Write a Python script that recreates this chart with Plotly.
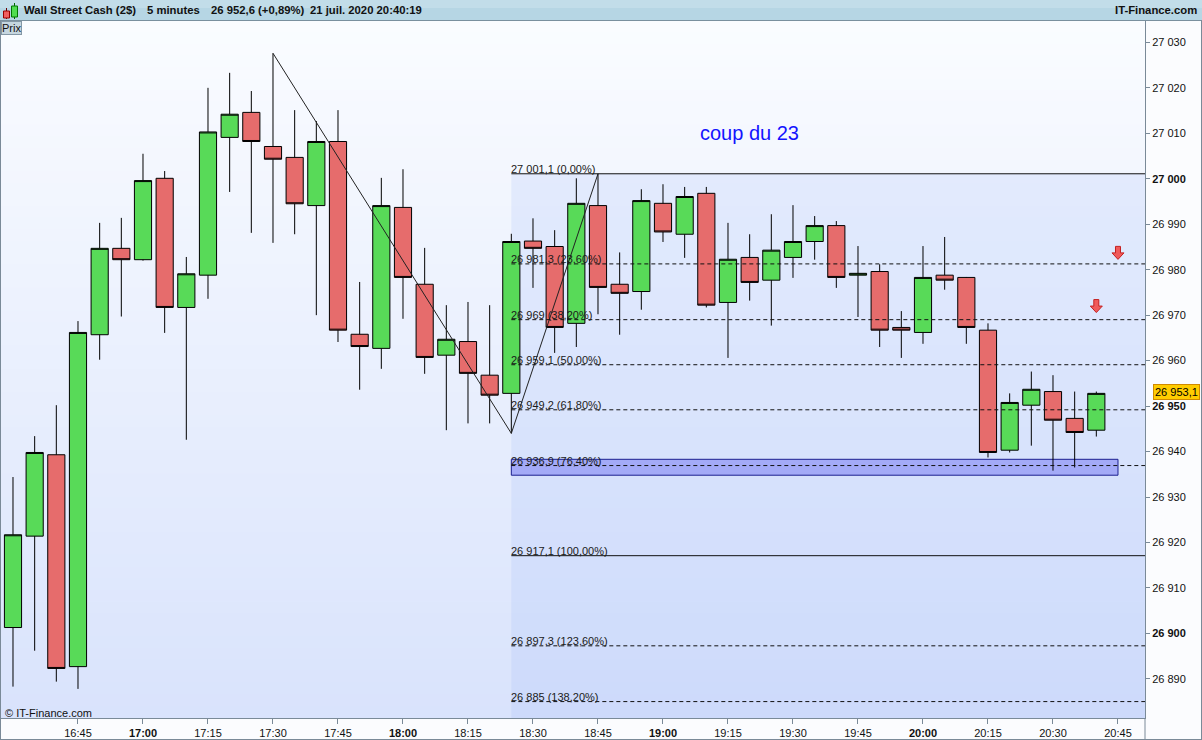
import plotly.graph_objects as go
import pandas as pd

# ---------------- data ----------------
times = pd.date_range("2020-07-21 16:30", "2020-07-21 20:40", freq="5min")
opens = [26901.3, 26921.4, 26939.3, 26892.7, 26965.7, 26984.7, 26982.2, 27000.1, 26971.7, 26978.8,
         27009.1, 27014.6, 27007.1, 27004.7, 26994.1, 27008.2, 26965.8, 26962.7, 26993.7, 26976.8,
         26961.2, 26964.2, 26956.8, 26952.8, 26986.3, 26985.1, 26968.2, 26994.1, 26976.8, 26975.2,
         26994.6, 26987.8, 26996.8, 26972.8, 26982.7, 26977.7, 26982.7, 26986.2, 26989.7, 26978.8,
         26979.6, 26967.3, 26966.2, 26978.8, 26978.3, 26966.7, 26940.3, 26950.2, 26953.2, 26947.3,
         26944.7]
highs = [26934.4, 26943.4, 26950.2, 26968.7, 26990.3, 26991.4, 27005.5, 27001.7, 26982.8, 27020.0,
         27023.3, 27019.3, 27027.6, 27015.1, 27012.7, 27015.1, 26977.3, 27000.2, 27002.1, 26984.8,
         26972.2, 26972.9, 26972.2, 26987.9, 26991.3, 26988.7, 27000.1, 27001.1, 26983.8, 26997.7,
         26998.8, 26998.2, 26998.2, 26990.3, 26987.8, 26992.2, 26994.2, 26991.8, 26990.7, 26985.2,
         26981.2, 26970.9, 26985.2, 26987.2, 26978.4, 26968.2, 26952.8, 26957.6, 26956.8, 26953.2,
         26953.2]
lows = [26888.3, 26896.2, 26889.4, 26887.8, 26960.2, 26969.7, 26982.0, 26966.1, 26942.6, 26973.6,
        26997.1, 26988.1, 26985.9, 26987.8, 26970.0, 26964.1, 26953.6, 26958.2, 26969.2, 26957.1,
        26944.7, 26946.2, 26946.2, 26944.0, 26976.0, 26961.7, 26963.0, 26970.2, 26965.7, 26971.2,
        26986.1, 26982.6, 26971.7, 26960.6, 26973.2, 26967.7, 26978.2, 26982.2, 26976.0, 26969.6,
        26963.0, 26960.6, 26963.7, 26975.6, 26963.7, 26938.7, 26939.8, 26941.3, 26935.8, 26936.5,
        26943.3]
closes = [26921.7, 26939.8, 26892.3, 26966.2, 26984.7, 26982.2, 26999.6, 26971.7, 26979.1, 27010.3,
          27014.2, 27008.2, 27004.3, 26994.5, 27008.2, 26966.7, 26963.1, 26994.1, 26978.3, 26960.7,
          26964.7, 26957.2, 26952.4, 26986.2, 26984.7, 26967.3, 26994.6, 26976.1, 26974.8, 26995.2,
          26988.3, 26996.1, 26972.2, 26982.3, 26977.2, 26984.3, 26986.2, 26989.7, 26978.3, 26979.2,
          26966.7, 26966.7, 26978.3, 26977.7, 26967.3, 26939.8, 26950.8, 26953.7, 26946.9, 26944.2,
          26952.8]

fib_top = 27001.1
fib_bottom = 26917.1
fib_ratios = [0.0, 0.236, 0.382, 0.5, 0.618, 0.764, 1.0, 1.236, 1.382]
fib_start = "2020-07-21 18:25"

zigzag_t = ["2020-07-21 17:30", "2020-07-21 18:25", "2020-07-21 18:45"]
zigzag_v = [27027.6, 26944.0, 27001.1]

zone_t = ["2020-07-21 18:25", "2020-07-21 20:45"]
zone_v = [26934.8, 26938.3]

arrow_t = ["2020-07-21 20:45", "2020-07-21 20:40"]
arrow_v = [26983.7, 26972.0]

note_t = "2020-07-21 19:20"
note_v = 27010.0
note_text = "coup du 23"

last_price = 26953.1
y_tick_vals = [26890, 26900, 26910, 26920, 26930, 26940, 26950, 26960, 26970, 26980,
               26990, 27000, 27010, 27020, 27030]
y_bold = [26900, 26950, 27000]
x_tick_labels = ["16:45", "17:00", "17:15", "17:30", "17:45", "18:00", "18:15", "18:30", "18:45",
                 "19:00", "19:15", "19:30", "19:45", "20:00", "20:15", "20:30", "20:45"]
x_range = ["2020-07-21 16:27:14", "2020-07-21 20:51:14"]
y_range = [26881.4, 27034.7]

header_parts = [("Wall Street Cash (2$)", 22), ("5 minutes", 145), ("26 952,6 (+0,89%)", 209),
                ("21 juil. 2020 20:40:19", 308)]

# ---------------- helpers ----------------
W, H = 1202, 740
ML, MR, MT, MB = 1, 57, 21, 22
PW, PH = W - ML - MR, H - MT - MB
FONT = "Liberation Sans, Arial, sans-serif"


def px2x(px):
    return (px - ML) / PW


def py2y(py):
    return (H - MB - py) / PH


def fr(v, dec=1):
    s = f"{v:,.{dec}f}"
    return s.replace(",", " ").replace(".", ",")


def fib_label(v, r):
    dec = 0 if abs(round(v, 1) - round(v)) < 1e-9 else 1
    return f"{fr(v, dec)} ({fr(r * 100, 2)}%)"


fig = go.Figure()

shapes = []
# background gradient bands
N = 60
top_c = (250, 252, 255)
bot_c = (217, 227, 252)
for i in range(N):
    t = i / (N - 1)
    c = tuple(round(top_c[k] + (bot_c[k] - top_c[k]) * t) for k in range(3))
    shapes.append(dict(type="rect", xref="paper", yref="paper", x0=0, x1=1,
                       y0=1 - (i + 1) / N, y1=1 - i / N + 0.001, layer="below",
                       fillcolor=f"rgb{c}", line=dict(width=0)))

# fib zone
shapes.append(dict(type="rect", xref="x", yref="y", x0=fib_start, x1=x_range[1],
                   y0=y_range[0], y1=fib_top, layer="below",
                   fillcolor="rgba(150,178,250,0.17)", line=dict(width=0)))

# fib lines
rng = fib_top - fib_bottom
fib_levels = [fib_top - r * rng for r in fib_ratios]
for r, v in zip(fib_ratios, fib_levels):
    solid = r in (0.0, 1.0)
    shapes.append(dict(type="line", xref="x", yref="y", x0=fib_start, x1=x_range[1],
                       y0=v, y1=v, layer="above",
                       line=dict(color="#111111", width=1, dash="solid" if solid else "4px,3px")))

# target zone rectangle
shapes.append(dict(type="rect", xref="x", yref="y", x0=zone_t[0], x1=zone_t[1],
                   y0=zone_v[0], y1=zone_v[1], layer="below",
                   fillcolor="#a3aaf7", line=dict(color="#1c2090", width=1)))

# arrows
for t, v in zip(arrow_t, arrow_v):
    shapes.append(dict(type="path", xref="x", yref="y", xsizemode="pixel", ysizemode="pixel",
                       xanchor=t, yanchor=v,
                       path="M-2.5,6.5 L2.5,6.5 L2.5,0 L6,0 L0,-6.5 L-6,0 L-2.5,0 Z",
                       fillcolor="#f05a5a", line=dict(color="#c42020", width=1), layer="above"))

# header bar
shapes.append(dict(type="rect", xref="paper", yref="paper", x0=px2x(0), x1=px2x(W),
                   y0=py2y(20.5), y1=py2y(0), fillcolor="#b6d6e4", line=dict(width=0)))
shapes.append(dict(type="rect", xref="paper", yref="paper", x0=px2x(0), x1=px2x(W),
                   y0=py2y(8), y1=py2y(0), fillcolor="#c2dde9", line=dict(width=0)))
shapes.append(dict(type="line", xref="paper", yref="paper", x0=px2x(0), x1=px2x(W),
                   y0=py2y(20.5), y1=py2y(20.5), line=dict(color="#7a909e", width=1)))
# header icon
shapes.append(dict(type="line", xref="paper", yref="paper", x0=px2x(6.5), x1=px2x(6.5),
                   y0=py2y(19), y1=py2y(8), line=dict(color="#600", width=1)))
shapes.append(dict(type="rect", xref="paper", yref="paper", x0=px2x(3.5), x1=px2x(9.5),
                   y0=py2y(18), y1=py2y(11), fillcolor="#f06060", line=dict(color="#900", width=1)))
shapes.append(dict(type="line", xref="paper", yref="paper", x0=px2x(14.5), x1=px2x(14.5),
                   y0=py2y(19), y1=py2y(3), line=dict(color="#060", width=1)))
shapes.append(dict(type="rect", xref="paper", yref="paper", x0=px2x(11.5), x1=px2x(17.5),
                   y0=py2y(17), y1=py2y(6), fillcolor="#50dd50", line=dict(color="#070", width=1)))
# frame lines
shapes.append(dict(type="line", xref="paper", yref="paper", x0=px2x(0.5), x1=px2x(0.5),
                   y0=py2y(H), y1=py2y(20.5), line=dict(color="#7a8a98", width=1)))
shapes.append(dict(type="line", xref="paper", yref="paper", x0=1, x1=1,
                   y0=py2y(H), y1=0, line=dict(color="#7a8a98", width=1)))
shapes.append(dict(type="line", xref="paper", yref="paper", x0=px2x(0), x1=px2x(W),
                   y0=py2y(H - 0.5), y1=py2y(H - 0.5), line=dict(color="#7a8a98", width=1)))
shapes.append(dict(type="line", xref="paper", yref="paper", x0=px2x(W - 0.5), x1=px2x(W - 0.5),
                   y0=py2y(H), y1=py2y(20.5), line=dict(color="#7a8a98", width=1)))

# ---------------- traces ----------------
fig.add_trace(go.Candlestick(
    x=times, open=opens, high=highs, low=lows, close=closes,
    increasing=dict(fillcolor="#58da58", line=dict(color="#000000", width=1)),
    decreasing=dict(fillcolor="#e66c6c", line=dict(color="#000000", width=1)),
    whiskerwidth=0, showlegend=False, hoverinfo="skip"))

fig.add_trace(go.Scatter(x=zigzag_t, y=zigzag_v, mode="lines",
                         line=dict(color="#222222", width=1), showlegend=False, hoverinfo="skip"))

# ---------------- annotations ----------------
ann = []
for r, v in zip(fib_ratios, fib_levels):
    ann.append(dict(x=fib_start, y=v, xref="x", yref="y", text=fib_label(v, r), showarrow=False,
                    xanchor="left", yanchor="bottom", xshift=-2, yshift=-3,
                    font=dict(family=FONT, size=11, color="#1a1a1a")))

ann.append(dict(x=note_t, y=note_v, xref="x", yref="y", text=note_text, showarrow=False,
                font=dict(family=FONT, size=20, color="#1414ff")))

for txt, px in header_parts:
    ann.append(dict(x=px2x(px), y=py2y(10), xref="paper", yref="paper", text=f"<b>{txt}</b>",
                    showarrow=False, xanchor="left", yanchor="middle",
                    font=dict(family=FONT, size=11.3, color="#111")))
ann.append(dict(x=px2x(1199), y=py2y(10), xref="paper", yref="paper", text="<b>IT-Finance.com</b>",
                showarrow=False, xanchor="right", yanchor="middle",
                font=dict(family=FONT, size=11.3, color="#111")))
ann.append(dict(x=px2x(0.5), y=py2y(21), xref="paper", yref="paper", text="Prix",
                showarrow=False, xanchor="left", yanchor="top", bgcolor="#c6d6df",
                bordercolor="#8497a5", borderwidth=1, borderpad=0,
                font=dict(family=FONT, size=11, color="#111")))
ann.append(dict(x=px2x(3), y=py2y(713), xref="paper", yref="paper", text="© IT-Finance.com",
                showarrow=False, xanchor="left", yanchor="middle",
                font=dict(family=FONT, size=11, color="#111")))
ann.append(dict(x=px2x(1153), y=last_price, xref="paper", yref="y", text=fr(last_price, 1),
                showarrow=False, xanchor="left", yanchor="middle", bgcolor="#ffcc00",
                bordercolor="#d08a00", borderwidth=1, borderpad=1,
                font=dict(family=FONT, size=11, color="#000")))

y_tick_text = [f"<b>{fr(v, 0)}</b>" if v in y_bold else fr(v, 0) for v in y_tick_vals]
x_tick_vals = [pd.Timestamp("2020-07-21 " + s) for s in x_tick_labels]
x_tick_text = [f"<b>{s}</b>" if s.endswith(":00") else s for s in x_tick_labels]

fig.update_layout(
    width=W, height=H,
    margin=dict(l=ML, r=MR, t=MT, b=MB, pad=0),
    paper_bgcolor="#fbfcfe", plot_bgcolor="#f0f4fe",
    boxgap=0.12, boxgroupgap=0.1,
    shapes=shapes, annotations=ann,
    font=dict(family=FONT, size=11, color="#111"),
    xaxis=dict(type="date", range=x_range, showgrid=False, zeroline=False,
               tickvals=x_tick_vals, ticktext=x_tick_text, ticks="outside", ticklen=5,
               tickcolor="#7a8a98", showline=True, linecolor="#7a8a98", linewidth=1,
               rangeslider=dict(visible=False), tickfont=dict(family=FONT, size=11, color="#111")),
    yaxis=dict(side="right", range=y_range, showgrid=False, zeroline=False,
               tickvals=y_tick_vals, ticktext=y_tick_text, ticks="outside", ticklen=4,
               tickcolor="#7a8a98", showline=True, linecolor="#7a8a98", linewidth=1,
               tickfont=dict(family=FONT, size=11, color="#111")),
    showlegend=False,
)

fig.write_html("out.html", config={"displayModeBar": False},
               post_script="document.body.style.margin='0px';")
